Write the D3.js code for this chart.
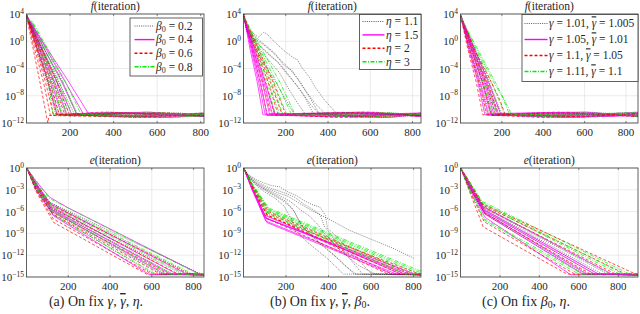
<!DOCTYPE html>
<html>
<head>
<meta charset="utf-8">
<script src="https://cdn.jsdelivr.net/npm/d3@7"></script>
<style>
  body { margin: 0; background: #fff; }
  svg { display: block; }
  svg text { font-family: "Liberation Serif", "DejaVu Serif", "Times New Roman", serif; fill: #262626; }
  .ov { text-decoration: overline; }
</style>
</head>
<body>
<script>
// each curve: [iteration, log10(value)]

// ---- (a) top : f, beta0 = 0.2 / 0.4 / 0.6 / 0.8
const fA_b02 = [
  [[1,3.7],[45,-1.0],[95,-6.0],[135,-10.8],[420,-10.5],[850,-11.1]],
  [[1,3.5],[50,-1.2],[105,-6.2],[150,-10.7],[500,-11.2],[850,-10.6]],
  [[1,3.8],[55,-0.8],[118,-6.0],[168,-10.9],[380,-10.4],[850,-10.9]],
  [[1,3.6],[60,-1.0],[128,-6.1],[182,-10.8],[610,-11.1],[850,-10.5]],
  [[1,3.9],[66,-0.9],[140,-6.0],[200,-11.0],[450,-10.6],[850,-11.0]],
  [[1,3.4],[72,-1.1],[152,-6.2],[218,-10.6],[540,-11.0],[850,-10.7]],
  [[1,3.7],[78,-1.0],[166,-6.0],[236,-10.8],[700,-10.5],[850,-11.2]]
]
const fA_b04 = [
  [[1,3.8],[48,-0.9],[100,-6.0],[140,-10.7],[480,-11.1],[850,-10.6]],
  [[1,3.6],[56,-1.0],[115,-6.1],[162,-10.9],[400,-10.5],[850,-11.0]],
  [[1,3.9],[63,-0.8],[130,-6.0],[186,-10.8],[650,-11.2],[850,-10.8]],
  [[1,3.5],[70,-1.0],[145,-6.2],[206,-10.6],[520,-10.9],[850,-10.5]],
  [[1,3.7],[78,-0.9],[162,-6.0],[232,-10.8],[560,-10.4],[850,-11.1]],
  [[1,3.8],[88,-1.0],[180,-6.1],[262,-10.7],[430,-11.0],[850,-10.9]],
  [[1,3.6],[95,-1.1],[195,-6.0],[282,-10.5],[790,-10.8],[850,-10.3]]
]
const fA_b06 = [
  [[1,3.5],[30,-1.0],[68,-7.0],[98,-12.0],[104,-10.9],[460,-10.5],[850,-11.1]],
  [[1,3.7],[36,-1.0],[78,-6.0],[110,-10.9],[590,-11.2],[850,-10.7]],
  [[1,3.8],[42,-0.9],[88,-6.1],[124,-10.8],[350,-10.4],[850,-10.9]],
  [[1,3.6],[47,-1.0],[98,-6.0],[138,-10.7],[700,-11.0],[850,-10.6]],
  [[1,3.9],[52,-1.1],[108,-6.0],[152,-10.9],[420,-10.6],[850,-11.0]],
  [[1,3.6],[60,-1.0],[124,-6.1],[176,-10.8],[530,-11.1],[850,-10.5]],
  [[1,3.7],[67,-0.9],[138,-6.0],[196,-10.7],[640,-10.5],[850,-11.0]]
]
const fA_b08 = [
  [[1,3.3],[18,2.8],[55,-1.0],[100,-6.0],[122,-10.8],[440,-11.1],[850,-10.6]],
  [[1,3.0],[20,2.6],[62,-1.0],[112,-6.1],[142,-10.7],[560,-10.4],[850,-11.0]],
  [[1,3.2],[22,2.8],[68,-0.9],[125,-6.0],[162,-10.9],[380,-10.6],[850,-11.1]],
  [[1,3.4],[24,2.9],[75,-1.0],[140,-6.0],[186,-10.8],[670,-11.2],[850,-10.8]],
  [[1,3.1],[25,2.7],[82,-1.0],[152,-6.1],[206,-10.6],[500,-10.9],[850,-10.5]],
  [[1,3.3],[26,2.9],[90,-1.1],[168,-6.0],[230,-10.8],[610,-10.5],[850,-10.9]],
  [[1,3.2],[28,2.8],[96,-1.0],[180,-6.0],[250,-10.7],[470,-11.0],[850,-10.7]]
]

// ---- (a) bottom : e
const eA_b02 = [
  [[1,0],[45,-2.2],[115,-5.0],[780,-14.5],[850,-14.7]],
  [[1,0],[45,-2.5],[120,-5.6],[700,-14.6],[850,-14.7]],
  [[1,0],[45,-2.0],[110,-4.7],[820,-14.4],[850,-14.6]],
  [[1,0],[45,-2.7],[125,-6.1],[650,-14.6],[850,-14.7]],
  [[1,0],[45,-2.4],[118,-5.5],[740,-14.5],[850,-14.7]],
  [[1,0],[45,-2.9],[128,-6.4],[610,-14.6],[850,-14.7]]
]
const eA_b04 = [
  [[1,0],[45,-1.8],[110,-4.0],[200,-5.5],[830,-14.6],[850,-14.7]],
  [[1,0],[45,-2.3],[118,-5.3],[720,-14.6],[850,-14.7]],
  [[1,0],[45,-2.6],[124,-5.9],[660,-14.6],[850,-14.7]],
  [[1,0],[45,-2.1],[114,-4.9],[760,-14.5],[850,-14.6]],
  [[1,0],[45,-3.0],[130,-6.6],[590,-14.7],[850,-14.7]],
  [[1,0],[45,-2.4],[120,-5.7],[690,-14.6],[850,-14.7]]
]
const eA_b06 = [
  [[1,0],[45,-3.2],[130,-7.5],[575,-14.6],[850,-14.7]],
  [[1,0],[45,-3.0],[128,-7.0],[600,-14.6],[850,-14.7]],
  [[1,0],[45,-2.6],[120,-6.0],[680,-14.6],[850,-14.7]],
  [[1,0],[45,-2.3],[115,-5.4],[720,-14.5],[850,-14.7]],
  [[1,0],[45,-2.8],[125,-6.3],[640,-14.6],[850,-14.7]],
  [[1,0],[45,-2.2],[112,-5.0],[770,-14.5],[850,-14.7]]
]
const eA_b08 = [
  [[1,0],[45,-1.7],[110,-4.2],[810,-14.4],[850,-14.6]],
  [[1,0],[45,-2.0],[115,-4.8],[790,-14.5],[850,-14.7]],
  [[1,0],[45,-2.5],[122,-5.8],[700,-14.6],[850,-14.7]],
  [[1,0],[45,-2.9],[128,-6.5],[620,-14.6],[850,-14.7]],
  [[1,0],[45,-2.2],[118,-5.2],[750,-14.5],[850,-14.7]],
  [[1,0],[45,-2.6],[124,-6.0],[670,-14.6],[850,-14.7]]
]

// ---- (b) top : f, eta = 1.1 / 1.5 / 2 / 3
const fB_e11 = [
  [[1,4],[15,2.0],[40,1.3],[70,0.6],[95,1.3],[110,1.1],[150,-0.2],[200,-1.6],[235,-2.4],[255,-2.7],[275,-3.8],[315,-5.4],[340,-6.8],[380,-8.5],[440,-10.6],[600,-11.0],[850,-10.6]],
  [[1,4],[15,1.8],[50,0.4],[90,-0.4],[130,-1.4],[170,-2.6],[210,-3.8],[260,-5.6],[300,-7.5],[340,-9.2],[390,-10.7],[620,-10.4],[850,-11.0]],
  [[1,4],[15,1.7],[40,0.5],[80,-0.8],[120,-2.0],[160,-3.0],[200,-4.6],[250,-6.4],[290,-8.2],[330,-10.6],[560,-11.1],[850,-10.7]],
  [[1,4],[15,1.9],[50,0.8],[100,-0.5],[150,-1.8],[190,-3.5],[230,-4.3],[270,-6.2],[310,-8.1],[360,-10.7],[700,-10.5],[850,-11.0]],
  [[1,4],[15,1.6],[45,0.2],[85,-1.5],[125,-3.0],[170,-4.6],[210,-6.8],[250,-8.8],[290,-10.6],[520,-10.9],[850,-10.6]],
  [[1,4],[15,1.8],[40,0.6],[90,-1.0],[140,-2.4],[180,-3.6],[220,-5.2],[270,-7.2],[320,-9.4],[360,-10.7],[640,-11.2],[850,-10.8]],
  [[1,4],[15,1.5],[40,-0.2],[80,-2.4],[120,-4.4],[160,-6.4],[200,-8.6],[240,-10.7],[480,-10.5],[850,-10.9]]
]
const fB_e15 = [
  [[1,3.8],[30,-1.0],[65,-6.0],[92,-10.8],[430,-11.1],[850,-10.6]],
  [[1,3.6],[35,-1.0],[72,-6.0],[102,-10.7],[560,-10.4],[850,-11.0]],
  [[1,3.9],[38,-0.9],[80,-6.1],[112,-10.9],[380,-10.6],[850,-10.9]],
  [[1,3.7],[42,-1.0],[88,-6.0],[124,-10.8],[690,-11.2],[850,-10.7]],
  [[1,3.5],[46,-1.1],[96,-6.0],[136,-10.6],[500,-10.9],[850,-10.5]],
  [[1,3.8],[50,-1.0],[104,-6.2],[150,-10.8],[620,-10.5],[850,-11.1]]
]
const fB_e2 = [
  [[1,3.7],[38,-1.0],[80,-6.0],[112,-10.8],[520,-10.5],[850,-11.0]],
  [[1,3.6],[44,-1.0],[92,-6.1],[130,-10.7],[410,-11.1],[850,-10.6]],
  [[1,3.8],[50,-0.9],[104,-6.0],[148,-10.9],[660,-10.6],[850,-11.1]],
  [[1,3.5],[56,-1.0],[116,-6.0],[164,-10.8],[470,-11.2],[850,-10.8]],
  [[1,3.7],[62,-1.1],[128,-6.1],[182,-10.7],[590,-10.4],[850,-10.9]],
  [[1,3.8],[68,-1.0],[140,-6.0],[200,-10.8],[720,-11.0],[850,-10.5]]
]
const fB_e3 = [
  [[1,3.5],[52,-1.0],[108,-6.0],[152,-10.8],[450,-10.4],[850,-10.9]],
  [[1,3.6],[58,-1.0],[120,-6.1],[170,-10.7],[600,-11.1],[850,-10.6]],
  [[1,3.4],[64,-0.9],[132,-6.0],[188,-10.9],[390,-10.6],[850,-11.0]],
  [[1,3.7],[70,-1.0],[144,-6.0],[205,-10.8],[680,-10.5],[850,-10.8]],
  [[1,3.5],[76,-1.1],[158,-6.1],[225,-10.6],[540,-11.2],[850,-10.7]],
  [[1,3.6],[84,-1.0],[172,-6.0],[245,-10.8],[760,-10.9],[850,-10.5]]
]

// ---- (b) bottom : e
const eB_e11 = [
  [[1,0],[20,-0.9],[60,-1.6],[100,-2.1],[130,-2.4],[170,-2.6],[210,-3.3],[250,-3.8],[280,-4.4],[320,-5.0],[360,-5.4],[385,-6.5],[395,-8.3],[430,-9.2],[520,-12.0],[600,-14.5],[850,-14.7]],
  [[1,0],[20,-0.9],[60,-1.8],[110,-2.6],[150,-3.0],[200,-3.5],[240,-4.0],[280,-4.9],[320,-5.6],[360,-6.4],[380,-8.0],[420,-9.5],[500,-12.5],[560,-14.6],[850,-14.7]],
  [[1,0],[20,-1.0],[60,-2.0],[110,-2.8],[160,-3.4],[210,-3.9],[260,-4.8],[300,-5.5],[350,-6.3],[400,-7.0],[500,-8.6],[600,-9.8],[700,-11.0],[800,-12.4]],
  [[1,0],[20,-1.1],[60,-2.2],[110,-3.1],[160,-3.9],[200,-4.6],[240,-6.0],[270,-7.8],[300,-8.8],[400,-11.3],[480,-13.5],[530,-14.6],[850,-14.7]],
  [[1,0],[20,-1.2],[60,-2.4],[100,-3.3],[150,-4.2],[190,-5.2],[225,-7.0],[245,-8.6],[300,-10.2],[400,-12.6],[470,-14.6],[850,-14.7]],
  [[1,0],[20,-1.0],[60,-2.1],[110,-3.0],[170,-3.8],[220,-4.6],[270,-5.8],[310,-6.6],[350,-7.8],[380,-9.0],[450,-11.2],[540,-13.4],[620,-14.6],[850,-14.7]],
  [[1,0],[20,-1.1],[60,-2.3],[120,-3.4],[180,-4.4],[230,-5.6],[260,-7.2],[290,-8.4],[350,-10.2],[450,-12.6],[520,-14.6],[850,-14.7]]
]
const eB_e15 = [
  [[1,0],[40,-2.9],[105,-7.3],[720,-14.6],[850,-14.7]],
  [[1,0],[40,-2.7],[100,-6.8],[760,-14.6],[850,-14.7]],
  [[1,0],[40,-2.8],[110,-7.0],[800,-14.5],[850,-14.6]],
  [[1,0],[40,-2.6],[100,-6.5],[740,-14.6],[850,-14.7]],
  [[1,0],[40,-3.0],[110,-7.5],[700,-14.6],[850,-14.7]],
  [[1,0],[40,-2.8],[105,-6.9],[780,-14.6],[850,-14.7]]
]
const eB_e2 = [
  [[1,0],[40,-2.5],[110,-6.4],[700,-14.6],[850,-14.7]],
  [[1,0],[40,-2.4],[115,-6.2],[760,-14.6],[850,-14.7]],
  [[1,0],[40,-2.6],[112,-6.6],[820,-14.5],[850,-14.6]],
  [[1,0],[40,-2.7],[108,-6.9],[680,-14.6],[850,-14.7]],
  [[1,0],[40,-2.3],[118,-6.0],[790,-14.6],[850,-14.7]],
  [[1,0],[40,-2.5],[112,-6.5],[740,-14.6],[850,-14.7]]
]
const eB_e3 = [
  [[1,0],[40,-2.2],[115,-5.6],[840,-14.5],[850,-14.6]],
  [[1,0],[40,-2.3],[120,-5.9],[800,-14.6],[850,-14.7]],
  [[1,0],[40,-2.1],[118,-5.5],[850,-14.4]],
  [[1,0],[40,-2.4],[115,-6.1],[780,-14.6],[850,-14.7]],
  [[1,0],[40,-2.2],[122,-5.8],[820,-14.5],[850,-14.6]],
  [[1,0],[40,-2.5],[112,-6.3],[760,-14.6],[850,-14.7]]
]

// ---- (c) top : f, (gamma, gamma bar) pairs
const fC_g1 = [
  [[1,3.7],[40,-1.0],[88,-6.0],[125,-10.8],[470,-10.5],[870,-11.0]],
  [[1,3.6],[45,-1.0],[98,-6.1],[140,-10.7],[380,-11.1],[870,-10.6]],
  [[1,3.8],[50,-0.9],[108,-6.0],[155,-10.9],[620,-10.4],[870,-10.9]],
  [[1,3.5],[55,-1.0],[118,-6.0],[170,-10.8],[540,-11.2],[870,-10.7]],
  [[1,3.7],[60,-1.1],[128,-6.1],[185,-10.7],[700,-10.6],[870,-11.1]],
  [[1,3.6],[66,-1.0],[140,-6.0],[200,-10.8],[430,-10.9],[870,-10.5]]
]
const fC_g2 = [
  [[1,3.8],[38,-1.0],[84,-6.0],[118,-10.8],[560,-11.1],[870,-10.6]],
  [[1,3.6],[44,-1.0],[95,-6.1],[134,-10.7],[420,-10.5],[870,-11.0]],
  [[1,3.9],[49,-0.9],[104,-6.0],[148,-10.9],[660,-10.7],[870,-10.4]],
  [[1,3.7],[54,-1.0],[114,-6.0],[162,-10.8],[500,-11.2],[870,-10.9]],
  [[1,3.5],[60,-1.1],[126,-6.1],[178,-10.6],[600,-10.4],[870,-11.0]],
  [[1,3.8],[66,-1.0],[138,-6.2],[196,-10.8],[740,-11.0],[870,-10.6]]
]
const fC_g3 = [
  [[1,3.7],[34,-1.0],[76,-6.0],[108,-10.8],[400,-11.2],[870,-10.7]],
  [[1,3.6],[42,-1.0],[90,-6.1],[128,-10.7],[530,-10.5],[870,-11.1]],
  [[1,3.8],[50,-0.9],[106,-6.0],[150,-10.9],[690,-11.0],[870,-10.5]],
  [[1,3.5],[58,-1.0],[120,-6.0],[170,-10.8],[460,-10.4],[870,-10.9]],
  [[1,3.7],[66,-1.1],[150,-6.1],[190,-8.6],[215,-10.7],[580,-11.1],[870,-10.6]],
  [[1,3.8],[62,-1.0],[130,-6.0],[185,-10.8],[640,-10.6],[870,-11.0]]
]
const fC_g4 = [
  [[1,3.5],[50,-1.0],[108,-6.0],[155,-10.8],[510,-10.4],[870,-10.9]],
  [[1,3.4],[58,-1.0],[122,-6.1],[175,-10.7],[390,-11.0],[870,-10.6]],
  [[1,3.6],[64,-0.9],[136,-6.0],[195,-10.9],[650,-10.5],[870,-11.1]],
  [[1,3.5],[70,-1.0],[150,-6.0],[215,-10.8],[570,-11.2],[870,-10.7]],
  [[1,3.7],[76,-1.1],[162,-6.1],[200,-8.0],[235,-10.6],[450,-10.9],[870,-10.4]],
  [[1,3.5],[80,-1.0],[168,-6.0],[248,-10.8],[720,-10.6],[870,-11.0]]
]

// ---- (c) bottom : e
const eC_g1 = [
  [[1,0],[45,-2.4],[120,-5.8],[700,-14.6],[900,-14.7]],
  [[1,0],[45,-2.6],[124,-6.2],[650,-14.6],[900,-14.7]],
  [[1,0],[45,-2.2],[116,-5.4],[740,-14.5],[900,-14.7]],
  [[1,0],[45,-2.5],[122,-6.0],[680,-14.6],[900,-14.7]],
  [[1,0],[45,-2.3],[118,-5.6],[720,-14.6],[900,-14.7]],
  [[1,0],[45,-2.7],[126,-6.4],[630,-14.6],[900,-14.7]]
]
const eC_g2 = [
  [[1,0],[45,-2.8],[125,-6.8],[560,-14.7],[900,-14.7]],
  [[1,0],[45,-2.5],[120,-6.1],[640,-14.6],[900,-14.7]],
  [[1,0],[45,-2.3],[118,-5.7],[700,-14.6],[900,-14.7]],
  [[1,0],[45,-2.6],[122,-6.3],[620,-14.6],[900,-14.7]],
  [[1,0],[45,-2.1],[115,-5.3],[760,-14.5],[900,-14.7]],
  [[1,0],[45,-2.4],[120,-5.9],[680,-14.6],[900,-14.7]]
]
const eC_g3 = [
  [[1,0],[45,-3.2],[115,-8.1],[540,-14.6],[900,-14.7]],
  [[1,0],[45,-3.0],[120,-7.4],[580,-14.6],[900,-14.7]],
  [[1,0],[45,-1.9],[110,-4.9],[880,-14.5],[900,-14.6]],
  [[1,0],[45,-2.2],[115,-5.4],[780,-14.5],[900,-14.7]],
  [[1,0],[45,-2.6],[122,-6.2],[660,-14.6],[900,-14.7]],
  [[1,0],[45,-2.0],[112,-5.1],[830,-14.5],[900,-14.6]]
]
const eC_g4 = [
  [[1,0],[45,-1.8],[110,-4.6],[850,-14.5],[900,-14.6]],
  [[1,0],[45,-2.0],[114,-5.0],[800,-14.5],[900,-14.7]],
  [[1,0],[45,-3.0],[122,-7.2],[600,-14.6],[900,-14.7]],
  [[1,0],[45,-2.2],[116,-5.3],[760,-14.6],[900,-14.7]],
  [[1,0],[45,-2.9],[120,-7.0],[620,-14.6],[900,-14.7]],
  [[1,0],[45,-1.9],[112,-4.8],[820,-14.5],[900,-14.6]]
]

const iterTicks = [200, 400, 600, 800]
const fTicks = [4, 0, -4, -8, -12]
const eTicks = [0, -3, -6, -9, -12, -15]
// last iteration shown on each axis (top a, b, c, bottom a, b, c)
const iterMax = [815, 840, 858, 850, 835, 900]

// legend / caption text as pieces: [text, italic, subscript, overline]
const legA = [
  [["β",1],["0",0,1],[" = 0.2"]],
  [["β",1],["0",0,1],[" = 0.4"]],
  [["β",1],["0",0,1],[" = 0.6"]],
  [["β",1],["0",0,1],[" = 0.8"]]
]
const legB = [
  [["η",1],[" = 1.1"]],
  [["η",1],[" = 1.5"]],
  [["η",1],[" = 2"]],
  [["η",1],[" = 3"]]
]
const legC = [
  [["γ",1],[" = 1.01, "],["γ",1,0,1],[" = 1.005"]],
  [["γ",1],[" = 1.05, "],["γ",1,0,1],[" = 1.01"]],
  [["γ",1],[" = 1.1, "],["γ",1,0,1],[" = 1.05"]],
  [["γ",1],[" = 1.11, "],["γ",1,0,1],[" = 1.1"]]
]
const captions = [
  [["(a) On fix "],["γ",1],[", "],["γ",1,0,1],[", "],["η",1],["."]],
  [["(b) On fix "],["γ",1],[", "],["γ",1,0,1],[", "],["β",1],["0",0,1],["."]],
  [["(c) On fix "],["β",1],["0",0,1],[", "],["η",1],["."]]
]

const W = 640, H = 314
const colX = [26.5, 243.5, 460.5]
const plotW = 177.5, plotH = 109
const rowY = [14, 168]
const capX = [96, 320, 526]
const FONT = "'Liberation Serif', 'DejaVu Serif', serif"

const styles = [
  { stroke: "#333", dash: "1,1.2", w: 0.6 },
  { stroke: "#ff00ff", dash: null, w: 0.7 },
  { stroke: "#ff0000", dash: "3,2", w: 0.7 },
  { stroke: "#00ee00", dash: "4,1.5,1,1.5", w: 0.7 }
]

const svg = d3.select("body").append("svg")
    .attr("width", W)
    .attr("height", H)
    .attr("font-family", FONT)

function rich(sel, parts, size) {
  parts.forEach(p => {
    const t = sel.append("tspan").text(p[0])
    if (p[1]) t.attr("font-style", "italic")
    if (p[2]) t.attr("font-size", size * 0.7).attr("baseline-shift", "-20%")
    if (p[3]) t.attr("class", "ov")
  })
}

let clipId = 0
function panel(col, row, series, yDomain, yTicks, titleLetter, leg) {
  const x0 = colX[col], y0 = rowY[row]
  const x = d3.scaleLinear().domain([0, iterMax[row * 3 + col]]).range([x0, x0 + plotW])
  const y = d3.scaleLog().domain(yDomain.map(v => Math.pow(10, v))).range([y0 + plotH, y0])
  const g = svg.append("g")

  g.append("rect")
    .attr("x", x0).attr("y", y0).attr("width", plotW).attr("height", plotH)
    .attr("fill", "#fff")

  // grid
  g.selectAll(".gx").data(iterTicks).join("line")
    .attr("class", "gx")
    .attr("x1", d => x(d)).attr("x2", d => x(d))
    .attr("y1", y0).attr("y2", y0 + plotH)
    .attr("stroke", "#dedede").attr("stroke-width", 0.6)
  g.selectAll(".gy").data(yTicks).join("line")
    .attr("class", "gy")
    .attr("x1", x0).attr("x2", x0 + plotW)
    .attr("y1", d => y(Math.pow(10, d))).attr("y2", d => y(Math.pow(10, d)))
    .attr("stroke", "#dedede").attr("stroke-width", 0.6)

  // curves
  const id = "clip" + (clipId++)
  svg.append("clipPath").attr("id", id).append("rect")
    .attr("x", x0).attr("y", y0).attr("width", plotW).attr("height", plotH)
  const line = d3.line()
    .x(d => x(d[0]))
    .y(d => y(Math.pow(10, d[1])))
  const lines = g.append("g").attr("clip-path", `url(#${id})`)
  const n = d3.max(series, s => s.length)
  for (let i = 0; i < n; i++) {
    series.forEach((s, k) => {
      if (!s[i]) return
      lines.append("path")
        .attr("d", line(s[i]))
        .attr("fill", "none")
        .attr("stroke", styles[k].stroke)
        .attr("stroke-width", styles[k].w)
        .attr("stroke-dasharray", styles[k].dash)
    })
  }

  // box + inner ticks
  g.append("rect")
    .attr("x", x0).attr("y", y0).attr("width", plotW).attr("height", plotH)
    .attr("fill", "none").attr("stroke", "#3a3a3a").attr("stroke-width", 0.8)
  iterTicks.forEach(t => {
    g.append("line").attr("x1", x(t)).attr("x2", x(t)).attr("y1", y0 + plotH).attr("y2", y0 + plotH - 2)
      .attr("stroke", "#3a3a3a").attr("stroke-width", 0.6)
    g.append("line").attr("x1", x(t)).attr("x2", x(t)).attr("y1", y0).attr("y2", y0 + 2)
      .attr("stroke", "#3a3a3a").attr("stroke-width", 0.6)
  })

  // x labels
  g.selectAll(".xl").data(iterTicks).join("text")
    .attr("class", "xl")
    .attr("x", d => x(d)).attr("y", y0 + plotH + 12.5)
    .attr("text-anchor", "middle").attr("font-size", 11)
    .text(d => d)

  // y labels 10^k
  yTicks.forEach(t => {
    const tx = g.append("text")
      .attr("x", x0 - 2.5).attr("y", y(Math.pow(10, t)) + 4)
      .attr("text-anchor", "end").attr("font-size", 11)
    tx.append("tspan").text("10")
    tx.append("tspan").attr("font-size", 7.5).attr("dy", -4.5)
      .text(String(t).replace("-", "\u2212"))
  })

  // title
  const tt = g.append("text")
    .attr("x", x0 + plotW / 2).attr("y", y0 - 4.5)
    .attr("text-anchor", "middle").attr("font-size", 11.5)
  tt.append("tspan").attr("font-style", "italic").text(titleLetter)
  tt.append("tspan").text("(iteration)")

  // legend
  if (leg) {
    const lg = g.append("g")
    const lx = x0 + plotW - leg.right - leg.w
    lg.append("rect")
      .attr("x", lx).attr("y", y0 + leg.top)
      .attr("width", leg.w).attr("height", leg.h)
      .attr("fill", "#fff").attr("stroke", "#3a3a3a").attr("stroke-width", 0.8)
    leg.labels.forEach((lab, k) => {
      const ly = y0 + leg.top + leg.first + k * leg.step
      lg.append("line")
        .attr("x1", lx + leg.pad).attr("x2", lx + leg.pad + leg.len)
        .attr("y1", ly).attr("y2", ly)
        .attr("stroke", styles[k].stroke)
        .attr("stroke-width", k === 0 ? 0.8 : 1.4)
        .attr("stroke-dasharray", styles[k].dash)
      const t = lg.append("text")
        .attr("x", lx + leg.pad + leg.len + 1.5).attr("y", ly + 3.8)
        .attr("font-size", 11.5)
      rich(t, lab, 11.5)
    })
  }
}

panel(0, 0, [fA_b02, fA_b04, fA_b06, fA_b08], [-12, 4], fTicks, "f",
  { labels: legA, right: 1.5, top: 4, w: 72.5, h: 58, first: 8, step: 13.6, pad: 4.5, len: 20 })
panel(1, 0, [fB_e11, fB_e15, fB_e2, fB_e3], [-12, 4], fTicks, "f",
  { labels: legB, right: 0, top: 0.5, w: 61.5, h: 55, first: 7, step: 13.4, pad: 3, len: 22 })
panel(2, 0, [fC_g1, fC_g2, fC_g3, fC_g4], [-12, 4], fTicks, "f",
  { labels: legC, right: 0, top: 0.5, w: 116, h: 67, first: 9, step: 16, pad: 2.5, len: 23 })
panel(0, 1, [eA_b02, eA_b04, eA_b06, eA_b08], [-15, 0], eTicks, "e", null)
panel(1, 1, [eB_e11, eB_e15, eB_e2, eB_e3], [-15, 0], eTicks, "e", null)
panel(2, 1, [eC_g1, eC_g2, eC_g3, eC_g4], [-15, 0], eTicks, "e", null)

captions.forEach((c, i) => {
  const t = svg.append("text")
    .attr("x", capX[i]).attr("y", 306)
    .attr("text-anchor", "middle").attr("font-size", 14)
  rich(t, c, 14)
})
</script>
</body>
</html>
